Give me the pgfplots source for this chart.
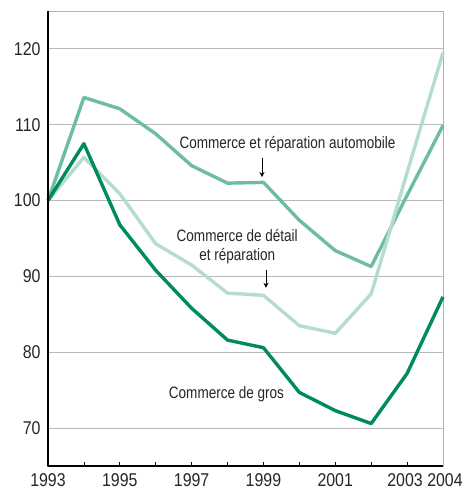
\documentclass[border=0pt]{standalone}
\usepackage{fontspec}
\setmainfont{Liberation Sans}[FakeStretch=0.82]
\newfontfamily\tickfont{Liberation Sans}[FakeStretch=0.86]
\usepackage{pgfplots}
\pgfplotsset{compat=1.18}
\usetikzlibrary{arrows.meta}
\definecolor{cdark}{RGB}{0,138,98}
\definecolor{cmed}{RGB}{108,189,163}
\definecolor{clight}{RGB}{180,221,204}
\begin{document}
\begin{tikzpicture}
\begin{axis}[
  scale only axis,
  width=395pt, height=455pt,
  xmin=1993, xmax=2004, ymin=65, ymax=125,
  xtick={1993,...,2004},
  xticklabels={1993,,1995,,1997,,1999,,2001,,2003\kern4pt,\kern4pt2004},
  ytick={70,80,...,120},
  /pgf/number format/assume math mode=true,
  /pgf/number format/1000 sep={},
  tick label style={font=\tickfont\fontsize{18.5}{20}\selectfont, text=black!85},
  xtick pos=bottom, xtick style={black, line width=0.8pt},
  tick align=inside, major tick length=4pt,
  ytick style={draw=none},
  ymajorgrids, grid style={gray!55, line width=0.9pt},
  axis line style={gray!60, line width=0.9pt},
  xticklabel style={yshift=-4pt},
  yticklabel style={xshift=-4pt},
  clip=false,
  line join=round,
]
\addplot[cmed, line width=3.4pt] coordinates {
(1993,100) (1994,113.6) (1995,112.1) (1996,108.8) (1997,104.6) (1998,102.3)
(1999,102.4) (2000,97.4) (2001,93.4) (2002,91.3) (2003,100.7) (2004,109.9)};
\addplot[clight, line width=3.4pt] coordinates {
(1993,100) (1994,105.7) (1995,100.9) (1996,94.3) (1997,91.5) (1998,87.8)
(1999,87.5) (2000,83.5) (2001,82.5) (2002,87.7) (2003,103.7) (2004,119.5)};
\addplot[cdark, line width=3.4pt] coordinates {
(1993,100) (1994,107.5) (1995,96.8) (1996,90.8) (1997,85.8) (1998,81.6)
(1999,80.6) (2000,74.7) (2001,72.3) (2002,70.6) (2003,77.2) (2004,87.3)};
\draw[black, line width=1.3pt] (rel axis cs:0,1) -- (rel axis cs:0,0) -- (rel axis cs:1,0);
\node[font=\fontsize{16.5}{19}\selectfont, text=black!85] at (axis cs:1999.67,107.4) {Commerce et réparation automobile};
\node[font=\fontsize{16.5}{19}\selectfont, text=black!85, align=center] at (axis cs:1998.27,93.9) {Commerce de détail\\et réparation};
\node[font=\fontsize{16.5}{19}\selectfont, text=black!85] at (axis cs:1997.97,74.4) {Commerce de gros};
\draw[-{Stealth[length=5pt,width=5pt]}, black, line width=0.8pt] (axis cs:1998.96,105.6) -- (axis cs:1998.96,103.1);
\draw[-{Stealth[length=5pt,width=5pt]}, black, line width=0.8pt] (axis cs:1999.07,90.8) -- (axis cs:1999.07,88.5);
\end{axis}
\pgfresetboundingbox
\path ([shift={(-48pt,-28pt)}]current axis.south west) rectangle ([shift={(20pt,11pt)}]current axis.north east);
\end{tikzpicture}
\end{document}
